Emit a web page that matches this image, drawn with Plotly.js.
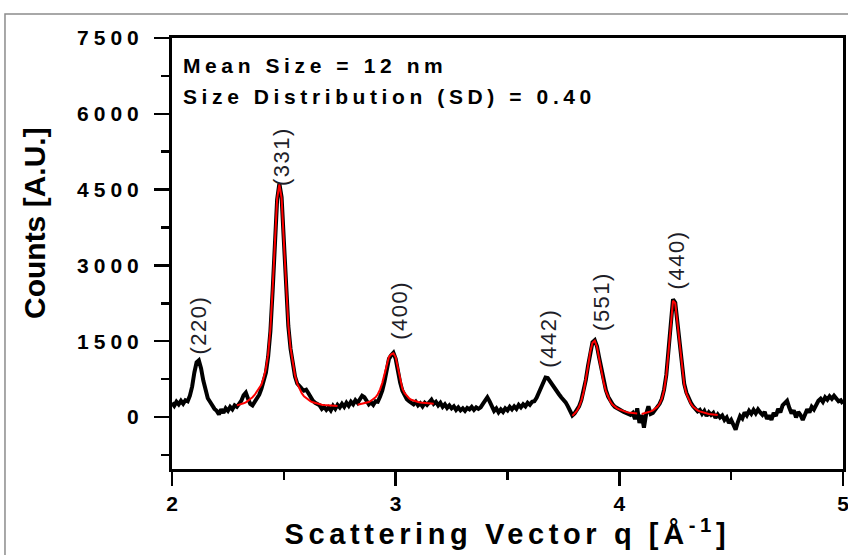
<!DOCTYPE html>
<html>
<head>
<meta charset="utf-8">
<script src="https://cdn.plot.ly/plotly-3.0.1.min.js"></script>
<style>html,body{margin:0;padding:0;background:#fff;}#chart{width:848px;height:555px;}</style>
</head>
<body>
<div id="chart"></div>
<script>
// Measured scattering data (black)
const qData = [2.00,2.01,2.02,2.03,2.04,2.05,2.06,2.07,2.08,2.09,2.10,2.11,2.12,2.13,2.14,2.15,2.16,2.17,2.18,2.19,
2.20,2.21,2.22,2.23,2.24,2.25,2.26,2.27,2.28,2.29,2.30,2.31,2.32,2.33,2.34,2.35,2.36,2.37,2.38,2.39,
2.40,2.41,2.42,2.43,2.44,2.45,2.46,2.47,2.48,2.49,2.50,2.51,2.52,2.53,2.54,2.55,2.56,2.57,2.58,2.59,
2.60,2.61,2.62,2.63,2.64,2.65,2.66,2.67,2.68,2.69,2.70,2.71,2.72,2.73,2.74,2.75,2.76,2.77,2.78,2.79,
2.80,2.81,2.82,2.83,2.84,2.85,2.86,2.87,2.88,2.89,2.90,2.91,2.92,2.93,2.94,2.95,2.96,2.97,2.98,2.99,
3.00,3.01,3.02,3.03,3.04,3.05,3.06,3.07,3.08,3.09,3.10,3.11,3.12,3.13,3.14,3.15,3.16,3.17,3.18,3.19,
3.20,3.21,3.22,3.23,3.24,3.25,3.26,3.27,3.28,3.29,3.30,3.31,3.32,3.33,3.34,3.35,3.36,3.37,3.38,3.39,
3.40,3.41,3.42,3.43,3.44,3.45,3.46,3.47,3.48,3.49,3.50,3.51,3.52,3.53,3.54,3.55,3.56,3.57,3.58,3.59,
3.60,3.61,3.62,3.63,3.64,3.65,3.66,3.67,3.68,3.69,3.70,3.71,3.72,3.73,3.74,3.75,3.76,3.77,3.78,3.79,
3.80,3.81,3.82,3.83,3.84,3.85,3.86,3.87,3.88,3.89,3.90,3.91,3.92,3.93,3.94,3.95,3.96,3.97,3.98,3.99,
4.00,4.01,4.02,4.03,4.04,4.05,4.06,4.07,4.08,4.09,4.10,4.11,4.12,4.13,4.14,4.15,4.16,4.17,4.18,4.19,
4.20,4.21,4.22,4.23,4.24,4.25,4.26,4.27,4.28,4.29,4.30,4.31,4.32,4.33,4.34,4.35,4.36,4.37,4.38,4.39,
4.40,4.41,4.42,4.43,4.44,4.45,4.46,4.47,4.48,4.49,4.50,4.51,4.52,4.53,4.54,4.55,4.56,4.57,4.58,4.59,
4.60,4.61,4.62,4.63,4.64,4.65,4.66,4.67,4.68,4.69,4.70,4.71,4.72,4.73,4.74,4.75,4.76,4.77,4.78,4.79,
4.80,4.81,4.82,4.83,4.84,4.85,4.86,4.87,4.88,4.89,4.90,4.91,4.92,4.93,4.94,4.95,4.96,4.97,4.98,4.99,5.00];

const countsData = [280,220,300,250,320,260,330,310,420,600,880,1080,1120,960,720,500,370,300,220,160,
120,50,150,80,170,120,200,150,230,200,260,320,430,480,360,260,230,290,360,440,
560,700,880,1200,1700,2500,3500,4300,4620,4350,3500,2500,1800,1350,1000,800,660,600,560,520,
540,470,380,320,280,250,230,160,200,140,190,130,220,160,240,190,260,200,280,220,
300,250,330,280,350,420,390,300,250,290,240,310,300,400,520,700,950,1150,1220,1270,
1150,900,680,520,420,350,310,270,250,300,230,270,210,280,240,290,340,260,300,230,
280,200,250,180,230,170,210,140,190,130,170,120,180,150,200,140,190,160,190,260,
340,390,310,200,120,170,90,150,100,170,130,200,150,210,160,240,190,250,210,280,
240,300,310,380,490,610,700,780,770,700,630,570,510,450,390,340,290,210,120,30,
70,130,210,330,500,730,1010,1300,1480,1520,1400,1170,920,700,530,400,310,250,200,170,
140,120,100,80,70,40,80,-40,170,-120,40,-210,60,210,60,80,140,190,260,360,
540,830,1320,1920,2330,2260,1860,1360,950,660,480,360,280,210,170,110,140,60,120,20,
90,40,80,-20,50,-10,30,-60,-10,-120,-60,-180,-250,-100,20,-30,90,30,120,60,
140,70,150,90,40,100,-40,30,-60,80,20,160,90,230,280,320,180,70,130,-10,
100,40,-60,60,150,90,200,150,260,320,360,300,390,340,410,360,420,350,310,330,260];

// Peak fit (red), four fitted segments separated by gaps
const qFit = [2.29,2.30,2.31,2.32,2.33,2.34,2.35,2.36,2.37,2.38,2.39,2.40,2.41,2.42,2.43,2.44,2.45,2.46,2.47,2.48,
2.49,2.50,2.51,2.52,2.53,2.54,2.55,2.56,2.57,2.58,2.59,2.60,2.61,2.62,2.63,2.64,2.65,2.66,2.67,2.68,
2.69,2.70,2.71,2.72,2.73,2.74, null,
2.83,2.84,2.85,2.86,2.87,2.88,2.89,2.90,2.91,2.92,2.93,2.94,2.95,2.96,2.97,2.98,2.99,3.00,3.01,3.02,
3.03,3.04,3.05,3.06,3.07,3.08,3.09,3.10,3.11,3.12,3.13,3.14,3.15,3.16,3.17, null,
3.79,3.80,3.81,3.82,3.83,3.84,3.85,3.86,3.87,3.88,3.89,3.90,3.91,3.92,3.93,3.94,3.95,3.96,3.97,3.98,
3.99,4.00,4.01,4.02,4.03,4.04,4.05,4.06,4.07,4.08, null,
4.10,4.11,4.12,4.13,4.14,4.15,4.16,4.17,4.18,4.19,4.20,4.21,4.22,4.23,4.24,4.25,4.26,4.27,4.28,4.29,
4.30,4.31,4.32,4.33,4.34,4.35,4.36,4.37,4.38,4.39,4.40,4.41,4.42,4.43,4.44];

const countsFit = [230,240,255,270,290,320,350,390,440,510,580,640,780,960,1250,1750,2550,3550,4320,4600,
4330,3480,2520,1820,1360,1040,820,660,550,470,410,370,340,310,290,275,260,250,240,235,
230,225,220,220,215,215, null,
240,250,255,265,280,295,320,350,390,450,540,670,850,1040,1190,1240,1260,1180,950,720,
560,470,410,370,340,320,305,295,285,280,275,270,268,265,262, null,
20,60,120,200,320,490,720,1000,1290,1470,1510,1390,1150,900,680,510,390,300,240,200,
170,150,130,115,100,90,85,80,75,70, null,
60,70,80,95,110,130,160,200,260,360,530,820,1300,1900,2300,2250,1850,1350,930,640,
460,340,260,200,160,130,110,95,80,70,60,55,50,45,40];

// Peak labels
const peakLabels = ["(220)","(331)","(400)","(442)","(551)","(440)"];
const peakLabelQ = [2.115,2.49,3.02,3.68,3.92,4.257];
const peakLabelY = [1820,5150,2100,1560,2280,3110];

const yTicks = [0,1500,3000,4500,6000,7500];
const yTickText = ["0","1500","3000","4500","6000","7500"];
const xTicks = [2,3,4,5];
const xTickText = ["2","3","4","5"];

const infoLines = ["Mean Size = 12 nm","Size Distribution (SD) = 0.40"];

const FONT = "Liberation Sans, Arial, sans-serif";

const traces = [
  {x: qData, y: countsData, type: "scatter", mode: "lines",
   line: {color: "#000000", width: 4}, hoverinfo: "skip"},
  {x: qFit, y: countsFit, type: "scatter", mode: "lines", connectgaps: false,
   line: {color: "#ff0000", width: 2}, hoverinfo: "skip"}
];

const annotations = [];
for (let i = 0; i < peakLabels.length; i++) {
  annotations.push({x: peakLabelQ[i], y: peakLabelY[i], xref: "x", yref: "y",
    text: peakLabels[i], showarrow: false, textangle: -90,
    xanchor: "center", yanchor: "middle",
    font: {family: FONT, size: 22, color: "#1e1e28"}});
}
annotations.push({x: 0.0134, y: 0.937, xref: "paper", yref: "paper", text: infoLines[0],
  showarrow: false, xanchor: "left", yanchor: "middle", align: "left",
  font: {family: FONT, size: 21, color: "#000", weight: "bold"}});
annotations.push({x: 0.0134, y: 0.865, xref: "paper", yref: "paper", text: infoLines[1],
  showarrow: false, xanchor: "left", yanchor: "middle", align: "left",
  font: {family: FONT, size: 21, color: "#000", weight: "bold"}});
annotations.push({x: 0.5, y: -0.146, xref: "paper", yref: "paper",
  text: "Scattering Vector q [Å<sup>-1</sup>]",
  showarrow: false, xanchor: "center", yanchor: "middle",
  font: {family: FONT, size: 29, color: "#000", weight: "bold"}});
annotations.push({x: -0.204, y: 0.571, xref: "paper", yref: "paper",
  text: "Counts [A.U.]", textangle: -90,
  showarrow: false, xanchor: "center", yanchor: "middle",
  font: {family: FONT, size: 30, color: "#000", weight: "bold"}});

const layout = {
  width: 848, height: 555,
  margin: {l: 172, r: 5, t: 38, b: 86},
  paper_bgcolor: "#ffffff", plot_bgcolor: "#ffffff",
  showlegend: false,
  xaxis: {range: [2, 5], tickvals: xTicks, ticktext: xTickText,
    showgrid: false, zeroline: false, ticklabeloverflow: "allow",
    showline: true, linecolor: "#000", linewidth: 3, mirror: true,
    ticks: "outside", ticklen: 14, tickwidth: 2.5, tickcolor: "#000",
    tickfont: {family: FONT, size: 21, color: "#000", weight: "bold"},
    minor: {dtick: 0.5, ticks: "outside", ticklen: 8, tickwidth: 2.5, tickcolor: "#000"}},
  yaxis: {range: [-1030, 7500], tickvals: yTicks, ticktext: yTickText,
    showgrid: false, zeroline: false,
    showline: true, linecolor: "#000", linewidth: 3, mirror: true,
    ticks: "outside", ticklen: 15, tickwidth: 2.5, tickcolor: "#000",
    ticklabelstandoff: 6,
    tickfont: {family: FONT, size: 21, color: "#000", weight: "bold"},
    minor: {dtick: 750, ticks: "outside", ticklen: 8, tickwidth: 2.5, tickcolor: "#000"}},
  annotations: annotations,
  shapes: [{type: "rect", xref: "paper", yref: "paper",
    x0: -0.2489, x1: 1.02, y0: -0.25, y1: 1.0557,
    line: {color: "#8c8c8c", width: 1.5}, fillcolor: "rgba(0,0,0,0)", layer: "below"}]
};

Plotly.newPlot("chart", traces, layout, {staticPlot: true}).then(function () {
  document.querySelectorAll(".ytick text").forEach(function (el) { el.style.letterSpacing = "5px"; });
  document.querySelectorAll("g.annotation text.annotation-text").forEach(function (el) {
    const t = el.textContent;
    if (t === infoLines[0] || t === infoLines[1]) el.style.letterSpacing = "4.6px";
    else if (t.indexOf("Scattering") === 0) el.style.letterSpacing = "4.6px";
    else if (t.charAt(0) === "(") el.style.letterSpacing = "1.5px";
  });
});
</script>
</body>
</html>
